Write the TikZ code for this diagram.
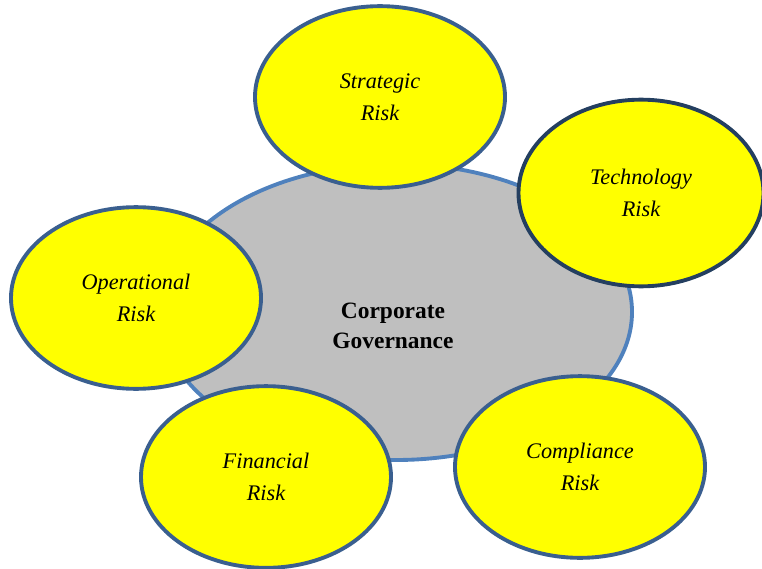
\documentclass[tikz,border=0pt]{standalone}
\usepackage{fontspec}
\setmainfont{Liberation Serif}
\usepackage{tikz}
\usetikzlibrary{shapes.geometric}
\definecolor{riskfill}{HTML}{FFFF00}
\definecolor{riskline}{HTML}{3A5F8F}
\definecolor{techline}{HTML}{243F60}
\definecolor{govfill}{HTML}{BFBFBF}
\definecolor{govline}{HTML}{4F81BD}

\begin{document}
\begin{tikzpicture}[x=0.03cm,y=-0.03cm,
  risk/.style={
    ellipse,
    draw=riskline,
    fill=riskfill,
    line width=3.3pt,
    minimum width=7.5cm,
    minimum height=5.45cm,
    align=center,
    font=\fontsize{19}{27}\selectfont\itshape,
  }]
  \useasboundingbox (0,0) rectangle (762,569);
  \coordinate (G) at (396,312);
  \draw[govline, fill=govfill, line width=3.3pt] (G) ellipse [x radius=236, y radius=148];
  \node[font=\fontsize{20}{25.5}\selectfont\bfseries, align=center] (gov) at (393,326) {Corporate\\Governance};
  \node[risk] (strategic) at (380,97) {Strategic\\Risk};
  \node[risk, draw=techline, minimum height=5.6cm, minimum width=7.35cm] (technology) at (641,193) {Technology\\Risk};
  \node[risk] (operational) at (136,298) {Operational\\Risk};
  \node[risk] (financial) at (266,477) {Financial\\Risk};
  \node[risk] (compliance) at (580,467) {Compliance\\Risk};
\end{tikzpicture}
\end{document}
